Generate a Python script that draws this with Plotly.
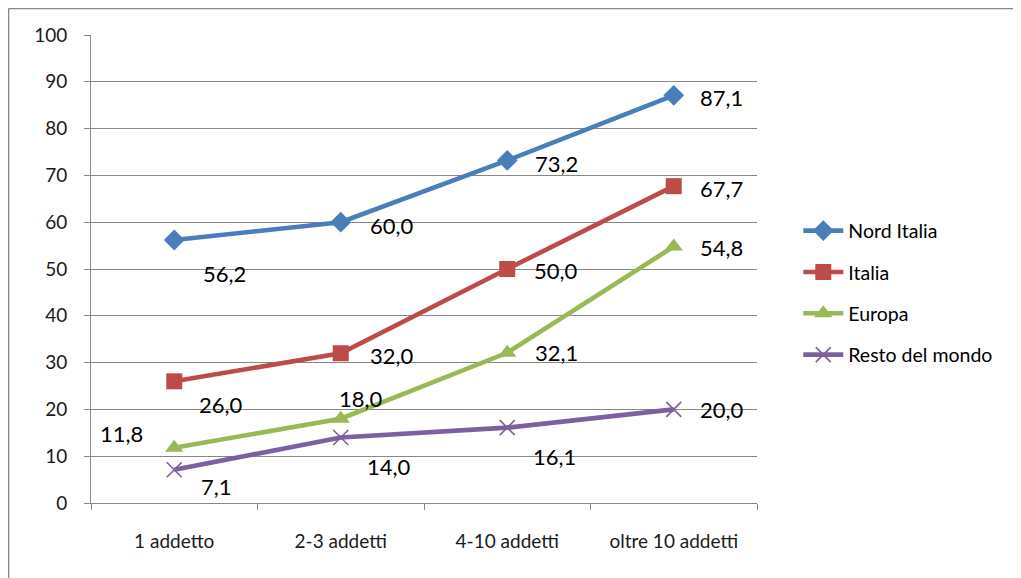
import plotly.graph_objects as go

categories = ["1 addetto", "2-3 addetti", "4-10 addetti", "oltre 10 addetti"]
series_names = ["Nord Italia", "Italia", "Europa", "Resto del mondo"]
nord_italia = [56.2, 60.0, 73.2, 87.1]
italia = [26.0, 32.0, 50.0, 67.7]
europa = [11.8, 18.0, 32.1, 54.8]
resto_mondo = [7.1, 14.0, 16.1, 20.0]
y_ticks = [0, 10, 20, 30, 40, 50, 60, 70, 80, 90, 100]

values = [nord_italia, italia, europa, resto_mondo]
colors = ["#4A7EBB", "#BE4B48", "#98B954", "#7D60A0"]
symbols = ["diamond", "square", "triangle-up", "x-thin-open"]
sizes = [16, 16, 16, 15]

# label offsets (px) per series / point
offsets = [
    [(50, 34), (51, 3), (49, 3), (48, 2)],
    [(47, 23), (51, 2), (49, 1), (48, 2)],
    [(-53, -14), (20, -20), (49, 0), (48, 1)],
    [(42, 17), (48, 29), (47, 29), (48, 0)],
]

FONT = "Lato, Carlito, Calibri, sans-serif"

fig = go.Figure()
for i, (name, vals) in enumerate(zip(series_names, values)):
    marker = dict(symbol=symbols[i], size=sizes[i], color=colors[i])
    if symbols[i] == "x-thin-open":
        marker["line"] = dict(color=colors[i], width=1.6)
    fig.add_trace(go.Scatter(
        x=categories, y=vals, name=name, mode="lines+markers",
        line=dict(color=colors[i], width=4.6),
        marker=marker, legendgroup=name,
    ))
    for j, v in enumerate(vals):
        dx, dy = offsets[i][j]
        fig.add_annotation(
            x=categories[j], y=v, text=f"{v:.1f}".replace(".", ","),
            showarrow=False, xshift=dx, yshift=-dy,
            font=dict(family=FONT, size=22, color="#000000"),
        )

fig.update_layout(
    width=1021, height=578,
    margin=dict(l=83, r=272, t=27, b=83),
    paper_bgcolor="white", plot_bgcolor="white",
    font=dict(family=FONT, color="#222222"),
    showlegend=True,
    legend=dict(
        x=1.062, y=0.623, xanchor="left", yanchor="top",
        font=dict(family=FONT, size=19.5, color="#000000"),
        tracegroupgap=13, itemwidth=40,
    ),
    xaxis=dict(
        type="category", range=[-0.5, 3.5],
        showline=True, linecolor="#868686", linewidth=1,
        ticks="outside", tickson="boundaries", ticklen=6, tickcolor="#868686",
        showgrid=False, tickfont=dict(family=FONT, size=19, color="#1a1a1a"),
        ticklabelstandoff=21,
    ),
    yaxis=dict(
        range=[0, 100], tickvals=y_ticks,
        showline=True, linecolor="#868686", linewidth=1,
        ticks="outside", ticklen=6, tickcolor="#868686",
        showgrid=True, gridcolor="#868686", gridwidth=1,
        zeroline=False, tickfont=dict(family=FONT, size=19, color="#1a1a1a"),
        ticklabelstandoff=13,
    ),
)

# outer chart border (only left and top edges visible in reference)
fig.add_shape(type="line", xref="paper", yref="paper",
              x0=-0.1238, x1=1.5, y0=1.0565, y1=1.0565,
              line=dict(color="#868686", width=1.5))
fig.add_shape(type="line", xref="paper", yref="paper",
              x0=-0.1238, x1=-0.1238, y0=-0.2, y1=1.0565,
              line=dict(color="#868686", width=1.5))

fig.write_html("out.html")
